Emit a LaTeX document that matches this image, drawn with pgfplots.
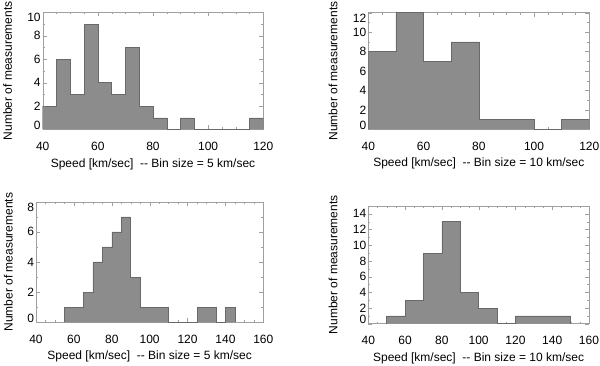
\documentclass[border=0pt]{standalone}
\usepackage{fontspec}
\setmainfont{Liberation Sans}
\usepackage{pgfplots}
\pgfplotsset{compat=1.18}
\definecolor{barfill}{RGB}{140,140,140}
\definecolor{barline}{RGB}{105,105,105}
\definecolor{framec}{RGB}{160,160,160}
\newcommand{\F}{\fontsize{12}{14}\selectfont}
\newcommand{\lo}[1]{\raisebox{0pt}[0pt][0pt]{\F #1}}
\newcommand{\hi}[1]{\raisebox{-9.6pt}[0pt][0pt]{\F #1}}
\pgfplotsset{
 hist/.style={
  scale only axis,
  anchor=south west,
  axis line style={framec},
  tick style={framec},
  major tick length=4pt,
  minor tick length=2pt,
  minor x tick num=3,
  minor y tick num=1,
  xticklabel style={anchor=center, yshift=-17pt},
  yticklabel style={xshift=1.5pt},
  xlabel style={at={(axis description cs:0.5,0)}, anchor=center, yshift=-34.5pt},
  ylabel={\F Number of measurements},
 },
 histbar/.style={const plot, fill=barfill, draw=barline, line width=0.5pt},
}
\begin{document}
\begin{tikzpicture}
\useasboundingbox (0,0) rectangle (600pt,366pt);
% top left
\begin{axis}[hist, at={(42.7pt,236.5pt)}, width=220.6pt, height=117.2pt,
  xmin=40, xmax=120, ymin=0, ymax=10,
  xtick={40,60,...,120}, ytick={0,2,...,10},
  xticklabels={\F 40,\F 60,\F 80,\F 100,\F 120},
  yticklabels={\lo{0},\F 2,\F 4,\F 6,\F 8,\hi{10}},
  xlabel={\F Speed [km/sec]\ \ -\kern0pt- Bin size = 5 km/sec},
  ylabel style={at={(axis description cs:-0.159,0.5)}, anchor=center}]
\addplot[histbar] coordinates {(40,0) (40,2) (45,6) (50,3) (55,9) (60,4) (65,3) (70,7) (75,2) (80,1) (85,0) (90,1) (95,0) (100,0) (105,0) (110,0) (115,1) (120,0)};
\end{axis}
% top right
\begin{axis}[hist, at={(368.3pt,236.7pt)}, width=221pt, height=116.6pt,
  xmin=40, xmax=120, ymin=0, ymax=12,
  xtick={40,60,...,120}, ytick={0,2,...,12},
  xticklabels={\F 40,\F 60,\F 80,\F 100,\F 120},
  yticklabels={\lo{0},\F 2,\F 4,\F 6,\F 8,\F 10,\hi{12}},
  xlabel={\F Speed [km/sec]\ \ -\kern0pt- Bin size = 10 km/sec},
  ylabel style={at={(axis description cs:-0.159,0.5)}, anchor=center}]
\addplot[histbar] coordinates {(40,0) (40,8) (50,12) (60,7) (70,9) (80,1) (90,1) (100,0) (110,1) (120,0)};
\end{axis}
% bottom left
\begin{axis}[hist, at={(36pt,43.7pt)}, width=227.3pt, height=120.6pt,
  xmin=40, xmax=160, ymin=0, ymax=8,
  xtick={40,60,...,160}, ytick={0,2,...,8},
  xticklabels={\F 40,\F 60,\F 80,\F 100,\F 120,\F 140,\F 160},
  yticklabels={\lo{0},\F 2,\F 4,\F 6,\hi{8}},
  xlabel={\F Speed [km/sec]\ \ -\kern0pt- Bin size = 5 km/sec},
  ylabel style={at={(axis description cs:-0.122,0.5)}, anchor=center}]
\addplot[histbar] coordinates {(55,0) (55,1) (60,1) (65,2) (70,4) (75,5) (80,6) (85,7) (90,3) (95,1) (100,1) (105,1) (110,0) (115,0) (120,0) (125,1) (130,1) (135,0) (140,1) (145,0)};
\end{axis}
% bottom right
\begin{axis}[hist, at={(368.3pt,42.3pt)}, width=220.7pt, height=117.7pt,
  xmin=40, xmax=160, ymin=0, ymax=15,
  xtick={40,60,...,160}, ytick={0,2,...,14},
  xticklabels={\F 40,\F 60,\F 80,\F 100,\F 120,\F 140,\F 160},
  yticklabels={\lo{0},\F 2,\F 4,\F 6,\F 8,\F 10,\F 12,\F 14},
  xlabel={\F Speed [km/sec]\ \ -\kern0pt- Bin size = 10 km/sec},
  ylabel style={at={(axis description cs:-0.16,0.5)}, anchor=center}]
\addplot[histbar] coordinates {(50,0) (50,1) (60,3) (70,9) (80,13) (90,4) (100,2) (110,0) (120,1) (130,1) (140,1) (150,0)};
\end{axis}
\end{tikzpicture}
\end{document}
